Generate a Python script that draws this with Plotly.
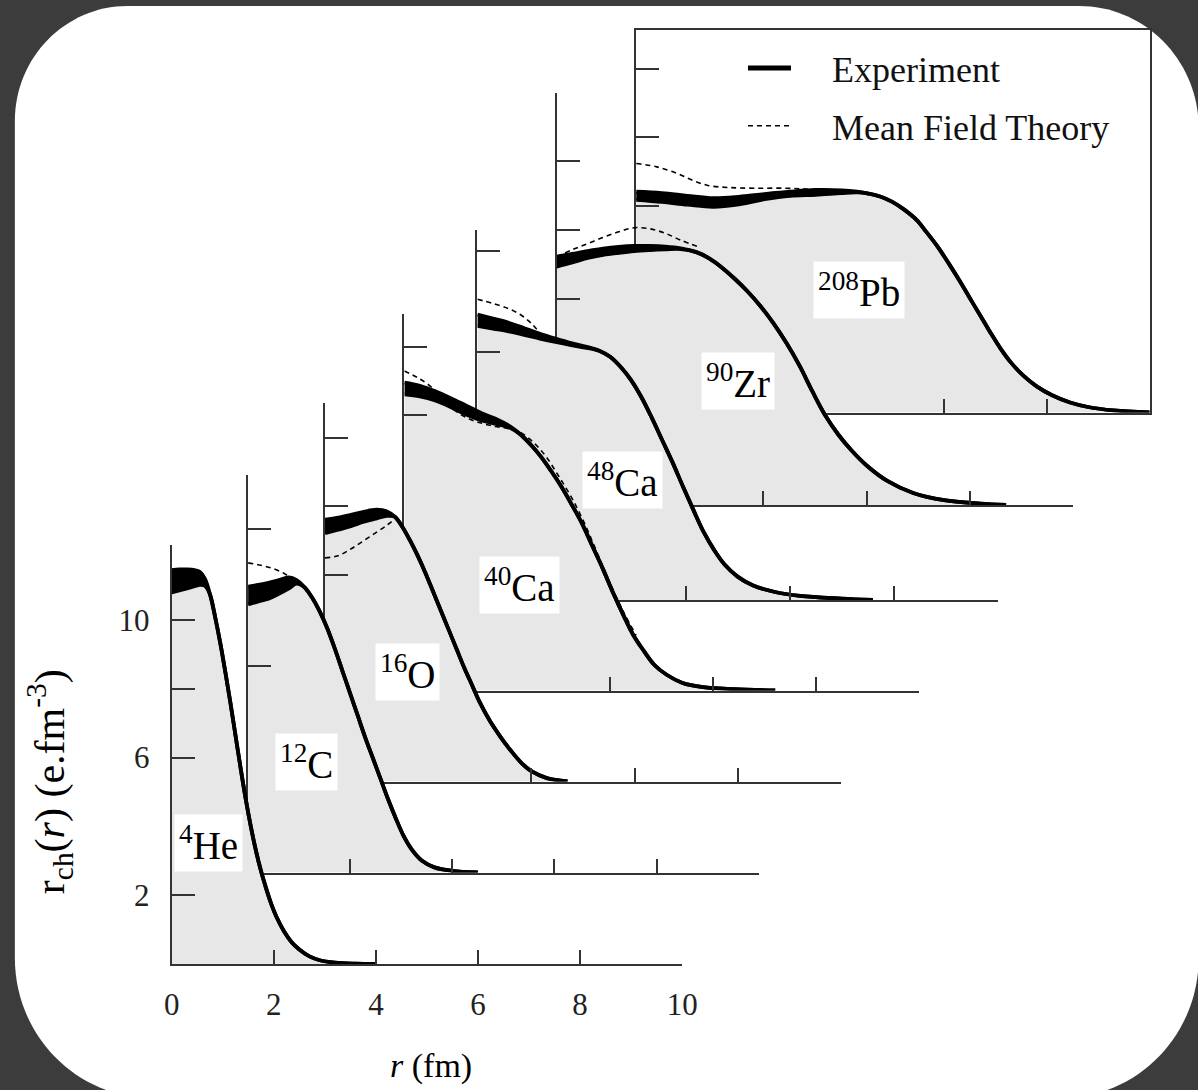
import plotly.graph_objects as go

W, H = 1198, 1090

# ---------------- data (r in fm, density as on the axis) ----------------
He_r  = [0, 0.15, 0.3, 0.45, 0.55, 0.65, 0.75, 0.85, 0.95, 1.05, 1.15, 1.25, 1.35, 1.45, 1.55, 1.65, 1.75, 1.85, 1.95, 2.05, 2.2, 2.35, 2.5, 2.7, 2.9, 3.2, 3.6, 4.0]
He_hi = [11.45, 11.47, 11.47, 11.45, 11.4, 11.2, 10.75, 10.1, 9.35, 8.5, 7.6, 6.65, 5.7, 4.8, 4.0, 3.3, 2.7, 2.2, 1.75, 1.38, 0.95, 0.63, 0.42, 0.22, 0.11, 0.04, 0.01, 0]
He_lo = [10.8, 10.86, 10.92, 10.98, 11.02, 11.0, 10.75, 10.1, 9.35, 8.5, 7.6, 6.65, 5.7, 4.8, 4.0, 3.3, 2.7, 2.2, 1.75, 1.38, 0.95, 0.63, 0.42, 0.22, 0.11, 0.04, 0.01, 0]

C_r  = [0, 0.2, 0.4, 0.6, 0.8, 0.95, 1.1, 1.25, 1.4, 1.55, 1.7, 1.85, 2.0, 2.15, 2.3, 2.45, 2.6, 2.75, 2.9, 3.05, 3.2, 3.4, 3.65, 4.0, 4.5]
C_hi = [8.31, 8.36, 8.42, 8.5, 8.58, 8.5, 8.3, 8.0, 7.6, 7.1, 6.5, 5.85, 5.2, 4.55, 3.9, 3.3, 2.7, 2.1, 1.55, 1.05, 0.68, 0.35, 0.15, 0.05, 0]
C_lo = [7.79, 7.88, 7.96, 8.1, 8.26, 8.4, 8.3, 8.0, 7.6, 7.1, 6.5, 5.85, 5.2, 4.55, 3.9, 3.3, 2.7, 2.1, 1.55, 1.05, 0.68, 0.35, 0.15, 0.05, 0]
C_th_r = [0, 0.25, 0.5, 0.7, 0.85, 1.0]
C_th   = [9.0, 8.93, 8.83, 8.7, 8.55, 8.45]

O_r  = [0, 0.25, 0.5, 0.75, 1.0, 1.2, 1.35, 1.5, 1.65, 1.8, 1.95, 2.1, 2.25, 2.4, 2.55, 2.7, 2.85, 3.0, 3.2, 3.4, 3.6, 3.8, 4.0, 4.3, 4.7]
O_hi = [7.61, 7.67, 7.75, 7.84, 7.9, 7.85, 7.7, 7.4, 7.0, 6.55, 6.05, 5.5, 4.95, 4.4, 3.85, 3.3, 2.8, 2.3, 1.75, 1.3, 0.9, 0.55, 0.3, 0.1, 0]
O_lo = [7.22, 7.32, 7.42, 7.55, 7.65, 7.72, 7.7, 7.4, 7.0, 6.55, 6.05, 5.5, 4.95, 4.4, 3.85, 3.3, 2.8, 2.3, 1.75, 1.3, 0.9, 0.55, 0.3, 0.1, 0]
O_th_r = [0, 0.25, 0.5, 0.75, 1.0, 1.2, 1.35]
O_th   = [6.5, 6.56, 6.76, 7.0, 7.25, 7.45, 7.62]

Ca40_r  = [0, 0.3, 0.6, 0.9, 1.2, 1.5, 1.8, 2.05, 2.25, 2.45, 2.65, 2.85, 3.05, 3.25, 3.45, 3.65, 3.85, 4.05, 4.25, 4.45, 4.65, 4.85, 5.1, 5.4, 5.8, 6.4, 7.2]
Ca40_hi = [8.95, 8.86, 8.7, 8.5, 8.28, 8.06, 7.88, 7.68, 7.45, 7.15, 6.8, 6.38, 5.92, 5.4, 4.85, 4.2, 3.55, 2.85, 2.2, 1.6, 1.15, 0.75, 0.45, 0.22, 0.1, 0.04, 0]
Ca40_lo = [8.61, 8.55, 8.43, 8.24, 8.02, 7.85, 7.74, 7.64, 7.45, 7.15, 6.8, 6.38, 5.92, 5.4, 4.85, 4.2, 3.55, 2.85, 2.2, 1.6, 1.15, 0.75, 0.45, 0.22, 0.1, 0.04, 0]
Ca40_th_r = [0, 0.25, 0.5, 0.75, 1.0, 1.25, 1.5, 1.75, 2.0, 2.25, 2.5, 2.75, 3.0, 3.25, 3.5, 3.75, 4.0, 4.25, 4.5]
Ca40_th   = [9.29, 9.1, 8.85, 8.5, 8.12, 7.9, 7.77, 7.68, 7.62, 7.5, 7.22, 6.8, 6.22, 5.6, 4.85, 3.98, 3.1, 2.3, 1.6]

Ca48_r  = [0, 0.3, 0.6, 0.9, 1.2, 1.5, 1.8, 2.1, 2.35, 2.55, 2.75, 2.95, 3.15, 3.35, 3.55, 3.75, 3.95, 4.15, 4.35, 4.55, 4.75, 5.0, 5.3, 5.7, 6.2, 7.0, 7.6]
Ca48_hi = [8.3, 8.18, 8.06, 7.9, 7.74, 7.6, 7.47, 7.36, 7.24, 7.07, 6.78, 6.4, 5.9, 5.3, 4.65, 4.0, 3.3, 2.62, 1.97, 1.45, 1.03, 0.68, 0.42, 0.24, 0.12, 0.04, 0]
Ca48_lo = [7.97, 7.89, 7.81, 7.71, 7.6, 7.5, 7.41, 7.33, 7.24, 7.07, 6.78, 6.4, 5.9, 5.3, 4.65, 4.0, 3.3, 2.62, 1.97, 1.45, 1.03, 0.68, 0.42, 0.24, 0.12, 0.04, 0]
Ca48_th_r = [0, 0.3, 0.6, 0.85, 1.05, 1.2]
Ca48_th   = [8.74, 8.62, 8.47, 8.27, 8.02, 7.76]

Zr_r  = [0, 0.3, 0.6, 0.9, 1.2, 1.5, 1.8, 2.1, 2.4, 2.7, 2.95, 3.2, 3.45, 3.7, 3.95, 4.2, 4.45, 4.7, 4.95, 5.2, 5.45, 5.7, 6.0, 6.4, 6.9, 7.5, 8.2, 8.7]
Zr_hi = [7.22, 7.3, 7.38, 7.45, 7.5, 7.53, 7.53, 7.51, 7.46, 7.35, 7.17, 6.9, 6.57, 6.2, 5.77, 5.27, 4.7, 4.05, 3.3, 2.6, 2.05, 1.6, 1.15, 0.7, 0.35, 0.14, 0.04, 0]
Zr_lo = [6.93, 7.05, 7.18, 7.27, 7.33, 7.38, 7.41, 7.43, 7.44, 7.35, 7.17, 6.9, 6.57, 6.2, 5.77, 5.27, 4.7, 4.05, 3.3, 2.6, 2.05, 1.6, 1.15, 0.7, 0.35, 0.14, 0.04, 0]
Zr_th_r = [0, 0.3, 0.6, 0.9, 1.2, 1.5, 1.8, 2.1, 2.4, 2.75]
Zr_th   = [7.22, 7.42, 7.6, 7.78, 7.94, 8.06, 8.03, 7.9, 7.7, 7.5]

Pb_r  = [0, 0.5, 1.0, 1.5, 2.0, 2.5, 3.0, 3.5, 4.0, 4.3, 4.5, 4.75, 4.98, 5.2, 5.46, 5.65, 5.87, 6.08, 6.29, 6.5, 6.71, 6.9, 7.1, 7.3, 7.54, 7.8, 8.1, 8.45, 8.8, 9.3, 10.0]
Pb_hi = [6.42, 6.38, 6.3, 6.23, 6.27, 6.35, 6.42, 6.47, 6.46, 6.42, 6.37, 6.28, 6.13, 5.92, 5.6, 5.25, 4.82, 4.35, 3.85, 3.32, 2.8, 2.32, 1.85, 1.45, 1.07, 0.76, 0.5, 0.29, 0.16, 0.06, 0]
Pb_lo = [6.18, 6.12, 6.04, 5.98, 6.05, 6.2, 6.3, 6.33, 6.38, 6.4, 6.37, 6.28, 6.13, 5.92, 5.6, 5.25, 4.82, 4.35, 3.85, 3.32, 2.8, 2.32, 1.85, 1.45, 1.07, 0.76, 0.5, 0.29, 0.16, 0.06, 0]
Pb_th_r = [0, 0.4, 0.8, 1.1, 1.4, 1.8, 2.3, 2.9, 3.5]
Pb_th   = [7.24, 7.14, 6.95, 6.75, 6.6, 6.54, 6.52, 6.52, 6.48]

labels = ["<sup>208</sup>Pb", "<sup>90</sup>Zr", "<sup>48</sup>Ca", "<sup>40</sup>Ca",
          "<sup>16</sup>O", "<sup>12</sup>C", "<sup>4</sup>He"]

x_ticks = [[6, 8, 10], [4, 6, 8, 10], [4, 6, 8, 10], [4, 6, 8, 10],
           [4, 6, 8, 10], [2, 4, 6, 8, 10], [0, 2, 4, 6, 8, 10]]
y_ticks = [[6, 8, 10], [6, 8, 10], [7.2, 10.15], [8, 10],
           [6, 8, 10], [6, 10], [2, 6, 8, 10]]
he_y_ticktext = ["2", "6", " ", "10"]
he_x_ticktext = ["0", "2", "4", "6", "8", "10"]

series = [  # back to front
    (Pb_r, Pb_hi, Pb_lo, Pb_th_r, Pb_th),
    (Zr_r, Zr_hi, Zr_lo, Zr_th_r, Zr_th),
    (Ca48_r, Ca48_hi, Ca48_lo, Ca48_th_r, Ca48_th),
    (Ca40_r, Ca40_hi, Ca40_lo, Ca40_th_r, Ca40_th),
    (O_r, O_hi, O_lo, O_th_r, O_th),
    (C_r, C_hi, C_lo, C_th_r, C_th),
    (He_r, He_hi, He_lo, None, None),
]

# ---------------- layout geometry (pixels in the 1198x1090 page) ----------------
geom = [
    dict(x0=641, x1=1165, y0=412.5, ytop=30),
    dict(x0=560, x1=1087, y0=505, ytop=93),
    dict(x0=479, x1=1010, y0=600, ytop=230),
    dict(x0=404.5, x1=930, y0=690.5, ytop=314),
    dict(x0=323.5, x1=850, y0=781.5, ytop=403),
    dict(x0=245, x1=766, y0=872.5, ytop=475),
    dict(x0=167, x1=688, y0=964, ytop=545),
]
PX_PER_UNIT_Y = 34.4
label_pos = [(4.34, 3.56), (3.51, 3.6), (2.79, 3.49), (2.24, 3.07), (1.59, 3.18), (1.15, 3.2), (0.73, 3.52)]

GRAY = "#e7e7e7"
AX = "#333333"
SERIF = "Liberation Serif"
LINE = dict(color="black", width=3.8, shape="spline", smoothing=1.0)

fig = go.Figure()
layout = dict(
    width=W, height=H, autosize=False,
    margin=dict(l=0, r=0, t=0, b=0, pad=0),
    paper_bgcolor="#3c3c3c",
    plot_bgcolor="rgba(0,0,0,0)",
    showlegend=True,
    font=dict(family=SERIF, color="black"),
)
annotations = []

for i, (r, hi, lo, thr, th) in enumerate(series):
    k = i + 1
    xa = "x" if k == 1 else f"x{k}"
    ya = "y" if k == 1 else f"y{k}"
    g = geom[i]
    ymax = (g["y0"] - g["ytop"]) / PX_PER_UNIT_Y
    front = (i == len(series) - 1)

    fig.add_trace(go.Scatter(x=r, y=hi, mode="lines", xaxis=xa, yaxis=ya, line=LINE,
                             fill="tozeroy", fillcolor=GRAY, showlegend=False, hoverinfo="skip"))
    fig.add_trace(go.Scatter(x=r, y=lo, mode="lines", xaxis=xa, yaxis=ya, line=LINE,
                             fill="tonexty", fillcolor="black", showlegend=False, hoverinfo="skip"))
    if thr is not None:
        fig.add_trace(go.Scatter(x=thr, y=th, mode="lines", xaxis=xa, yaxis=ya,
                                 line=dict(color="black", width=1.6, dash="5px,4px",
                                           shape="spline", smoothing=1.0),
                                 showlegend=False, hoverinfo="skip"))

    xkey = "xaxis" if k == 1 else f"xaxis{k}"
    ykey = "yaxis" if k == 1 else f"yaxis{k}"
    layout[xkey] = dict(
        domain=[g["x0"] / W, g["x1"] / W], range=[0, 10], anchor=ya,
        showline=True, linecolor=AX, linewidth=2, mirror=(k == 1),
        ticks="inside", ticklen=14, tickwidth=2, tickcolor=AX,
        tickvals=x_ticks[i], ticktext=he_x_ticktext if front else None,
        showticklabels=front, showgrid=False, zeroline=False,
        tickfont=dict(family=SERIF, size=31, color="#222"),
        ticklabelstandoff=12,
    )
    layout[ykey] = dict(
        domain=[1 - g["y0"] / H, 1 - g["ytop"] / H], range=[0, ymax], anchor=xa,
        showline=True, linecolor=AX, linewidth=2, mirror=(k == 1),
        ticks="inside", ticklen=23, tickwidth=2, tickcolor=AX,
        tickvals=y_ticks[i], ticktext=he_y_ticktext if front else None,
        showticklabels=front, showgrid=False, zeroline=False,
        tickfont=dict(family=SERIF, size=31, color="#222"),
        ticklabelstandoff=14,
    )
    lx, ly = label_pos[i]
    annotations.append(dict(x=lx, y=ly, xref=xa, yref=ya, text=labels[i], showarrow=False,
                            font=dict(family=SERIF, size=39, color="black"),
                            bgcolor="white", borderpad=4))

# legend entries
fig.add_trace(go.Scatter(x=[None], y=[None], mode="lines", name="&nbsp;&nbsp;&nbsp;&nbsp;Experiment",
                         legendgroup="exp", line=dict(color="black", width=5)))
fig.add_trace(go.Scatter(x=[None], y=[None], mode="lines", name="&nbsp;&nbsp;&nbsp;&nbsp;Mean Field Theory",
                         legendgroup="th", line=dict(color="black", width=1.6, dash="5px,4px")))

layout["legend"] = dict(x=750 / W, y=1 - 38 / H, xanchor="left", yanchor="top",
                        bgcolor="rgba(0,0,0,0)", font=dict(family=SERIF, size=36, color="#111"),
                        tracegroupgap=8, itemwidth=43)

annotations.append(dict(x=42 / W, y=1 - 782 / H, xref="paper", yref="paper",
                        xanchor="center", yanchor="middle",
                        text="r<sub>ch</sub>(<i>r</i>) (e.fm<sup>-3</sup>)", textangle=-90,
                        showarrow=False, font=dict(family=SERIF, size=42, color="black")))
annotations.append(dict(x=432 / W, y=1 - 1066 / H, xref="paper", yref="paper",
                        xanchor="center", yanchor="middle",
                        text="<i>r</i> (fm)", showarrow=False,
                        font=dict(family=SERIF, size=34, color="black")))
layout["annotations"] = annotations


# rounded white panel (pixel corners converted to paper fractions)
def px(x):
    return x / W


def py(y):
    return 1 - y / H


L, T, R, B = 7, 6, 1215, 1098
r_tl, r_tr, r_br, r_bl = 115, 122, 140, 140
c = 0.5523
path = " ".join([
    f"M {px(L + r_tl)},{py(T)}",
    f"L {px(R - r_tr)},{py(T)}",
    f"C {px(R - r_tr + c * r_tr)},{py(T)} {px(R)},{py(T + r_tr - c * r_tr)} {px(R)},{py(T + r_tr)}",
    f"L {px(R)},{py(B - r_br)}",
    f"C {px(R)},{py(B - r_br + c * r_br)} {px(R - r_br + c * r_br)},{py(B)} {px(R - r_br)},{py(B)}",
    f"L {px(L + r_bl)},{py(B)}",
    f"C {px(L + r_bl - c * r_bl)},{py(B)} {px(L)},{py(B - r_bl + c * r_bl)} {px(L)},{py(B - r_bl)}",
    f"L {px(L)},{py(T + r_tl)}",
    f"C {px(L)},{py(T + r_tl - c * r_tl)} {px(L + r_tl - c * r_tl)},{py(T)} {px(L + r_tl)},{py(T)} Z",
])
layout["shapes"] = [dict(type="path", path=path, xref="paper", yref="paper",
                         fillcolor="white", line=dict(width=0), layer="below")]

fig.update_layout(**layout)
fig.write_html("out.html", config={"responsive": False})
